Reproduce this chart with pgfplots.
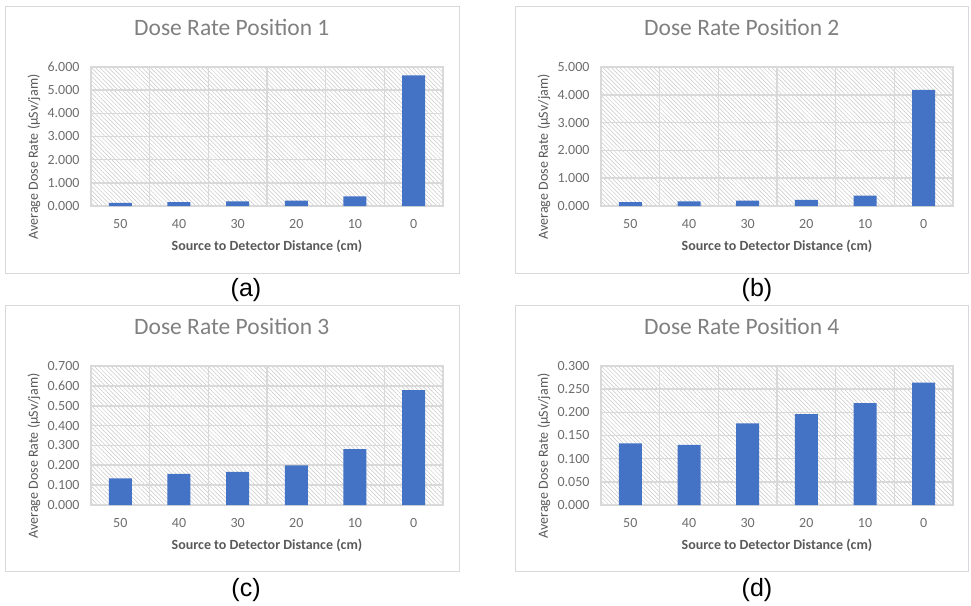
\documentclass[border=0pt]{standalone}
\usepackage{pgfplots}
\pgfplotsset{compat=1.18}
\usetikzlibrary{patterns.meta}
\usepackage{fontspec}
\setmainfont{Carlito}
\newfontfamily\arialfont{Liberation Sans}
\definecolor{barblue}{HTML}{4472C4}
\definecolor{gridgray}{HTML}{D9D9D9}
\definecolor{hatchgray}{HTML}{C8C8C8}
\definecolor{titlegray}{HTML}{808080}
\definecolor{tickgray}{HTML}{6E6E6E}
\definecolor{labgray}{HTML}{595959}
\definecolor{framegray}{HTML}{D9D9D9}
\pgfplotsset{
  dr/.style={
    scale only axis, width=352bp, height=139bp,
    anchor=south west,
    ybar, bar width=23bp,
    enlargelimits=false,
    xmin=-0.5, xmax=5.5, ymin=0,
    xtick={0,1,2,3,4,5}, xticklabels={50,40,30,20,10,0},
    minor xtick={0.5,1.5,2.5,3.5,4.5},
    xmajorgrids=false, xminorgrids=true, ymajorgrids=true,
    grid style={draw=gridgray, line width=1.6bp},
    minor grid style={draw=gridgray, line width=1.6bp},
    axis line style={draw=gridgray, line width=1.6bp},
    major tick length=0pt, minor tick length=0pt,
    tick style={draw=none},
    scaled y ticks=false,
    axis background/.style={pattern={Lines[angle=-45, distance=3pt, line width=0.5pt]}, pattern color=hatchgray},
    ticklabel style={font=\fontsize{14bp}{16bp}\selectfont, text=tickgray},
    xticklabel style={anchor=center, yshift=-18bp},
    yticklabel style={anchor=east, xshift=-8bp,
      /pgf/number format/fixed, /pgf/number format/fixed zerofill,
      /pgf/number format/precision=3, /pgf/number format/assume math mode=true},
    title style={at={(axis description cs:0.4,1.245)}, anchor=center,
      font=\fontsize{23.5bp}{26bp}\selectfont, text=titlegray},
    xlabel={Source to Detector Distance (cm)},
    xlabel style={at={(axis description cs:0.5,-0.288)}, anchor=center,
      font=\bfseries\fontsize{14bp}{16bp}\selectfont, text=labgray},
    ylabel={Average Dose Rate (µSv/jam)},
    ylabel style={at={(axis description cs:-0.162,0.353)}, anchor=center, rotate=0,
      font=\fontsize{14bp}{16bp}\selectfont, text=labgray},
  }
}
\begin{document}
\begin{tikzpicture}
\path[use as bounding box, fill=white] (0,0) rectangle (971bp,-606bp);
% chart frames
\draw[framegray, line width=0.8bp] (5bp,-6bp) rectangle (459bp,-273bp);
\draw[framegray, line width=0.8bp] (515bp,-6bp) rectangle (968bp,-273bp);
\draw[framegray, line width=0.8bp] (5bp,-305bp) rectangle (459bp,-571bp);
\draw[framegray, line width=0.8bp] (515bp,-305bp) rectangle (968bp,-571bp);

% (a)
\begin{axis}[dr, at={(91bp,-206bp)}, title={Dose Rate Position 1},
  ymax=6, ytick={0,1,2,3,4,5,6}]
\addplot[fill=barblue, draw=none] coordinates {(0,0.14) (1,0.17) (2,0.20) (3,0.23) (4,0.42) (5,5.64)};
\end{axis}
% (b)
\begin{axis}[dr, at={(601bp,-206bp)}, title={Dose Rate Position 2},
  ymax=5, ytick={0,1,2,3,4,5}]
\addplot[fill=barblue, draw=none] coordinates {(0,0.14) (1,0.17) (2,0.19) (3,0.22) (4,0.37) (5,4.18)};
\end{axis}
% (c)
\begin{axis}[dr, at={(91bp,-505bp)}, title={Dose Rate Position 3},
  ymax=0.7, ytick={0,0.1,0.2,0.3,0.4,0.5,0.6,0.7}]
\addplot[fill=barblue, draw=none] coordinates {(0,0.134) (1,0.157) (2,0.167) (3,0.200) (4,0.281) (5,0.579)};
\end{axis}
% (d)
\begin{axis}[dr, at={(601bp,-505bp)}, title={Dose Rate Position 4},
  ymax=0.3, ytick={0,0.05,0.1,0.15,0.2,0.25,0.3}]
\addplot[fill=barblue, draw=none] coordinates {(0,0.133) (1,0.130) (2,0.176) (3,0.196) (4,0.220) (5,0.264)};
\end{axis}

\node[font=\arialfont\fontsize{25bp}{28bp}\selectfont] at (246bp,-290bp) {(a)};
\node[font=\arialfont\fontsize{25bp}{28bp}\selectfont] at (757bp,-290bp) {(b)};
\node[font=\arialfont\fontsize{25bp}{28bp}\selectfont] at (246bp,-590bp) {(c)};
\node[font=\arialfont\fontsize{25bp}{28bp}\selectfont] at (757bp,-590bp) {(d)};
\end{tikzpicture}
\end{document}
